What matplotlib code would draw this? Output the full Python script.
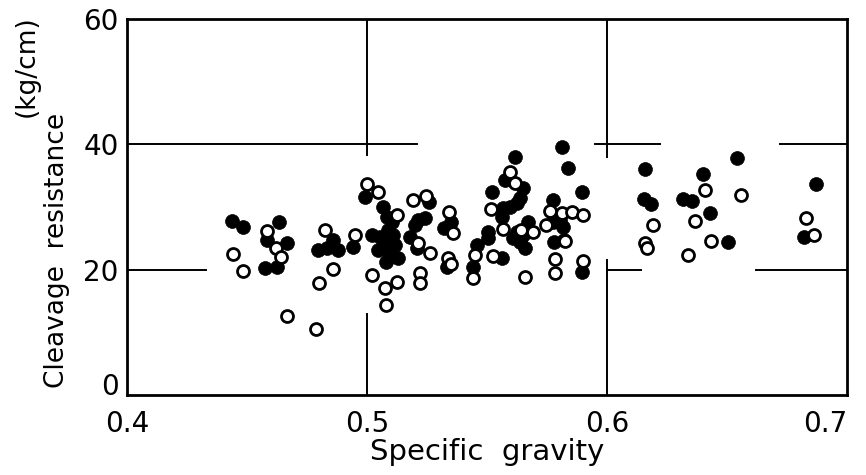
import matplotlib
matplotlib.use("Agg")
import matplotlib.pyplot as plt

# Filled circles
filled_sg = [0.4437, 0.4483, 0.4633, 0.4583, 0.4667, 0.4575, 0.4625,
             0.4796, 0.4833, 0.4858, 0.4879, 0.4942,
             0.4992, 0.5021, 0.5067, 0.5083, 0.5104, 0.5088, 0.5054, 0.5108, 0.5075,
             0.5117, 0.5046, 0.5096, 0.5129, 0.5079,
             0.5258, 0.5213, 0.5242, 0.5200, 0.5179, 0.5208,
             0.5321, 0.5350, 0.5333,
             0.5458, 0.5442, 0.5521, 0.5504, 0.5504, 0.5563, 0.5617, 0.5575, 0.5650,
             0.5638, 0.5567, 0.5596, 0.5625, 0.5563, 0.5671, 0.5625, 0.5650, 0.5608,
             0.5638, 0.5658,
             0.5812, 0.5838, 0.5896, 0.5775, 0.5775, 0.5804, 0.5817, 0.5779, 0.5821, 0.5896,
             0.6158, 0.6154, 0.6183, 0.6400, 0.6317, 0.6354, 0.6429, 0.6504, 0.6542,
             0.6871, 0.6821]
filled_cr = [27.8, 26.8, 27.6, 24.7, 24.3, 20.3, 20.4,
             23.1, 23.5, 24.7, 23.1, 23.6,
             31.6, 25.5, 30.0, 28.4, 27.6, 26.3, 25.2, 25.5, 23.9,
             23.9, 23.1, 22.3, 21.9, 21.3,
             30.8, 27.9, 28.2, 27.1, 25.2, 23.5,
             26.6, 27.6, 20.4,
             23.9, 20.4, 32.4, 26.0, 25.1, 21.9, 38.0, 34.3, 33.0,
             31.4, 29.8, 30.0, 30.6, 28.4, 27.6, 26.0, 25.5, 25.1,
             24.4, 23.5,
             39.5, 36.2, 32.4, 31.1, 27.6, 27.9, 26.8, 24.4, 24.7, 19.6,
             36.1, 31.3, 30.5, 35.3, 31.3, 31.0, 29.0, 24.4, 37.8,
             33.7, 25.2]

# Open circles
open_sg = [0.4442, 0.4483, 0.4583, 0.4621, 0.4642, 0.4667, 0.4788, 0.4825, 0.4858, 0.4800, 0.4950,
           0.5000, 0.5046, 0.5125, 0.5021, 0.5075, 0.5125, 0.5079, 0.5192, 0.5246, 0.5263,
           0.5221, 0.5221, 0.5342, 0.5358, 0.5338, 0.5350, 0.5213,
           0.5450, 0.5442, 0.5517, 0.5567, 0.5525, 0.5596, 0.5617, 0.5642, 0.5692, 0.5658,
           0.5763, 0.5813, 0.5854, 0.5900, 0.5746, 0.5825, 0.5783, 0.5783, 0.5900,
           0.6192, 0.6158, 0.6167, 0.6408, 0.6367, 0.6433, 0.6338, 0.6558, 0.6829, 0.6863]
open_cr = [22.5, 19.8, 26.2, 23.5, 22.0, 12.6, 10.5, 26.3, 20.1, 17.9, 25.5,
           33.7, 32.4, 28.7, 19.1, 17.1, 18.0, 14.4, 31.1, 31.8, 22.7,
           19.5, 17.9, 29.2, 25.8, 21.9, 20.9, 24.3,
           22.3, 18.7, 29.7, 26.5, 22.2, 35.6, 33.8, 26.3, 26.0, 18.8,
           29.4, 29.0, 29.2, 28.7, 27.1, 24.6, 21.7, 19.5, 21.4,
           27.1, 24.3, 23.5, 32.7, 27.8, 24.6, 22.3, 31.9, 28.2, 25.5]

x_ticks = [0.4, 0.5, 0.6, 0.7]
x_ticklabels = ["0.4", "0.5", "0.6", "0.7"]
y_ticks = [0, 20, 40, 60]
y_ticklabels = ["0", "20", "40", "60"]

fig = plt.figure(figsize=(8.66, 4.75), dpi=100)
ax = fig.add_axes([0.1467, 0.1684, 0.8314, 0.7916])
ax.set_xlim(0.4, 0.7)
ax.set_ylim(0, 60)

# partial hand-drawn grid segments
hsegs = [(40, 0.4, 0.521), (40, 0.595, 0.622), (40, 0.672, 0.7),
         (20, 0.4, 0.433), (20, 0.6, 0.614), (20, 0.662, 0.7)]
vsegs = [(0.5, 38.3, 60), (0.5, 0, 13), (0.6, 38.0, 60), (0.6, 0, 21.5)]
for yv, x0, x1 in hsegs:
    ax.plot([x0, x1], [yv, yv], color="black", lw=1.4, zorder=1)
for xv, y0, y1 in vsegs:
    ax.plot([xv, xv], [y0, y1], color="black", lw=1.4, zorder=1)

ax.plot(filled_sg, filled_cr, linestyle="none", marker="o", ms=10,
        markerfacecolor="black", markeredgecolor="black", mew=0.5, zorder=3)
ax.plot(open_sg, open_cr, linestyle="none", marker="o", ms=8.6,
        markerfacecolor="white", markeredgecolor="black", mew=2.0, zorder=4)

for s in ax.spines.values():
    s.set_linewidth(2.0)

ax.set_xticks(x_ticks)
ax.set_xticklabels(x_ticklabels)
ax.set_yticks(y_ticks)
ax.set_yticklabels(y_ticklabels)
ax.tick_params(length=0, labelsize=20)
ax.tick_params(axis="x", pad=11)
ax.tick_params(axis="y", pad=6)
ax.get_xticklabels()[-1].set_horizontalalignment("right")
ax.get_yticklabels()[0].set_verticalalignment("baseline")

ax.set_xlabel("Specific  gravity", fontsize=21, labelpad=0)
fig.text(0.066, 0.473, "Cleavage  resistance", rotation=90, fontsize=19,
         ha="center", va="center")
fig.text(0.031, 0.86, "(kg/cm)", rotation=90, fontsize=19,
         ha="center", va="center")

fig.savefig("out.png", dpi=100)
